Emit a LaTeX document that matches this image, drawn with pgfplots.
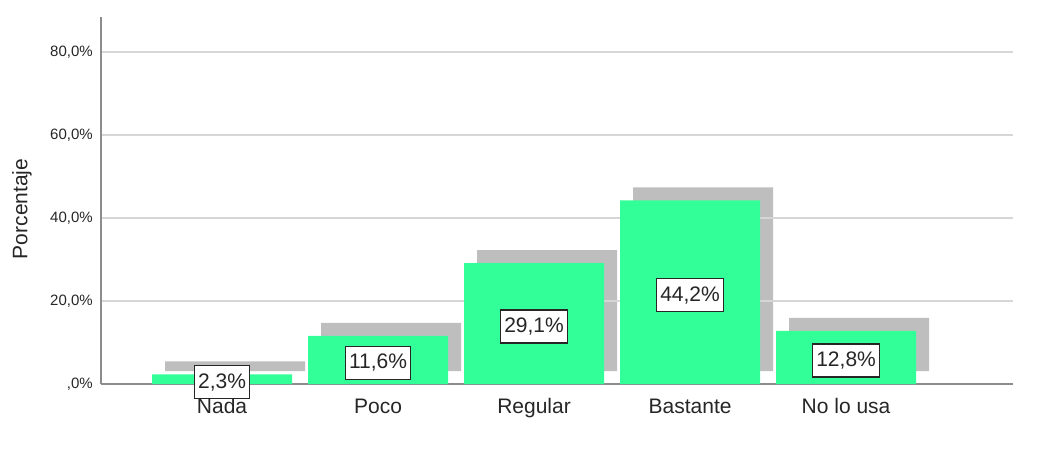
\documentclass[border=0pt]{standalone}
\usepackage{pgfplots}
\pgfplotsset{compat=1.18}
\usepackage{pgfplotstable}
\usepackage{fontspec}
\setmainfont{Liberation Sans}
\definecolor{barg}{HTML}{33FF99}
\definecolor{shad}{HTML}{BEBEBE}
\definecolor{gridc}{HTML}{D6D6D6}
\definecolor{axc}{HTML}{8C8C8C}
\definecolor{txt}{HTML}{262626}

\pgfplotstableread{
x y
0 2.3
1 11.6
2 29.1
3 44.2
4 12.8
}\datatab

\begin{document}
\begin{tikzpicture}
\begin{axis}[
  set layers,
  scale only axis,
  width=684pt, height=275.25pt,
  xmin=-0.776, xmax=5.07, ymin=0, ymax=88.4,
  axis x line*=bottom, axis y line*=left,
  axis line style={draw=axc, line width=1pt},
  xtick={0,1,2,3,4},
  xticklabels={Nada,Poco,Regular,Bastante,No lo usa},
  ytick={0,20,40,60,80},
  yticklabels={{,0\%},{20,0\%},{40,0\%},{60,0\%},{80,0\%}},
  major tick length=0pt,
  ymajorgrids,
  grid style={draw=gridc, line width=1pt},
  xticklabel style={font=\fontsize{15.75}{18}\selectfont, text=txt, inner sep=0pt, anchor=base, yshift=-21.75pt},
  yticklabel style={font=\fontsize{11.25}{13}\selectfont, text=txt, inner sep=0pt, xshift=-6pt},
  ylabel={Porcentaje},
  every axis y label/.style={at={(axis description cs:0,0.477)}, xshift=-59.25pt, rotate=90, anchor=center, font=\fontsize{15.75}{18}\selectfont, text=txt},
  clip=false,
]
\addplot[ybar, bar width=105pt, bar shift=0pt, fill=shad, draw=none, xshift=9.75pt, yshift=9.75pt, on layer=axis background]
  table[x=x,y=y]{\datatab};
\addplot[ybar, bar width=105pt, bar shift=0pt, fill=barg, draw=none]
  table[x=x,y=y]{\datatab};
\addplot[draw=none, no markers, point meta=explicit,
  nodes near coords={\pgfmathprintnumber[fixed, fixed zerofill, precision=1, use comma, assume math mode=true]{\pgfplotspointmeta}\%},
  every node near coord/.style={anchor=center, fill=white, draw=txt, line width=0.9pt, text=txt,
    font=\fontsize{15.75}{18}\selectfont, inner xsep=2.8pt, inner ysep=0pt, minimum height=24.75pt, yshift=-2.25pt}]
  table[x=x, y expr=\thisrow{y}/2, meta=y]{\datatab};
\end{axis}
\path ([shift={(-75.75pt,288pt)}]current axis.south west) rectangle ([shift={(713.25pt,-52.5pt)}]current axis.south west);
\end{tikzpicture}
\end{document}
